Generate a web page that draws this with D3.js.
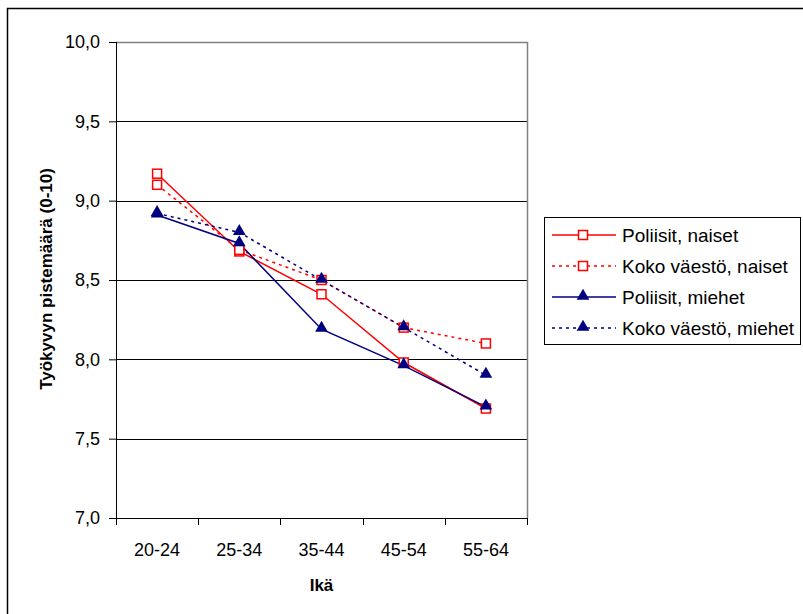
<!DOCTYPE html>
<html>
<head>
<meta charset="utf-8">
<script src="https://cdn.jsdelivr.net/npm/d3@7/dist/d3.min.js"></script>
<style>
  body { margin: 0; background: #fff; }
  svg text { font-family: "Liberation Sans", Arial, sans-serif; fill: #000; }
</style>
</head>
<body>
<svg id="chart" width="803" height="614"></svg>
<script>
// age groups on the x axis
var ages = ['20-24', '25-34', '35-44', '45-54', '55-64'];
var yTicks = [7.0, 7.5, 8.0, 8.5, 9.0, 9.5, 10.0];

// values
var poliisitNaiset = [9.17, 8.68, 8.41, 7.98, 7.69];
var kokoNaiset = [9.10, 8.69, 8.50, 8.20, 8.10];
var poliisitMiehet = [8.91, 8.73, 8.19, 7.96, 7.70];
var kokoMiehet = [8.92, 8.80, 8.50, 8.20, 7.90];

var seriesNames = ['Poliisit, naiset', 'Koko väestö, naiset', 'Poliisit, miehet', 'Koko väestö, miehet'];

var series = [
  { name: seriesNames[0], values: poliisitNaiset, color: '#ff0000', dash: null, marker: 'square' },
  { name: seriesNames[1], values: kokoNaiset, color: '#ff0000', dash: '3,4', marker: 'square' },
  { name: seriesNames[2], values: poliisitMiehet, color: '#000080', dash: null, marker: 'triangle' },
  { name: seriesNames[3], values: kokoMiehet, color: '#000080', dash: '3,4', marker: 'triangle' }
];

var svg = d3.select('#chart');

// outer chart frame
svg.append('rect')
  .attr('x', 7.5).attr('y', 8.5)
  .attr('width', 820).attr('height', 640)
  .attr('fill', 'none').attr('stroke', '#000').attr('stroke-width', 1.5);

var margin = { top: 42, left: 116 },
  width = 411,
  height = 476;

var g = svg.append('g').attr('transform', 'translate(' + margin.left + ',' + margin.top + ')');

var x = d3.scaleBand().domain(ages).range([0, width]);
var y = d3.scaleLinear().domain([7, 10]).range([height, 0]);

// gridlines
g.selectAll('.grid')
  .data(yTicks.filter(function(d) { return d > 7 && d < 10; }))
  .enter().append('line')
  .attr('x1', 0).attr('x2', width)
  .attr('y1', function(d) { return Math.round(y(d)) + 0.5; })
  .attr('y2', function(d) { return Math.round(y(d)) + 0.5; })
  .attr('stroke', '#000').attr('stroke-width', 1);

// plot area border (top and right)
g.append('path')
  .attr('d', 'M0,0.5H' + (width + 0.5) + 'V' + height)
  .attr('fill', 'none').attr('stroke', '#808080').attr('stroke-width', 1.5);

// y axis
var yAxis = g.append('g')
  .call(d3.axisLeft(y).tickValues(yTicks).tickSize(7).tickPadding(9)
    .tickFormat(function(d) { return d3.format('.1f')(d).replace('.', ','); }));
yAxis.select('.domain').attr('stroke', '#000').attr('d', 'M0.5,0V' + height);
yAxis.selectAll('text').style('font-size', '18px');

// x axis
var xAxis = g.append('g')
  .attr('transform', 'translate(0,' + height + ')')
  .call(d3.axisBottom(x).tickSize(0).tickPadding(25));
xAxis.select('.domain').attr('d', 'M0,0.5H' + width);
xAxis.selectAll('text').style('font-size', '18px');
xAxis.selectAll('.xtick')
  .data(d3.range(ages.length + 1))
  .enter().append('line')
  .attr('x1', function(i) { return Math.round(i * x.step()) + 0.5; })
  .attr('x2', function(i) { return Math.round(i * x.step()) + 0.5; })
  .attr('y1', 0).attr('y2', 7)
  .attr('stroke', '#000');

// axis titles
svg.append('text')
  .attr('x', margin.left + width / 2).attr('y', 591)
  .attr('text-anchor', 'middle')
  .style('font-size', '17px').style('font-weight', 'bold')
  .text('Ikä');

svg.append('text')
  .attr('transform', 'translate(52,' + (margin.top + height / 2 - 1) + ') rotate(-90)')
  .attr('text-anchor', 'middle')
  .style('font-size', '17px').style('font-weight', 'bold')
  .text('Työkyvyn pistemäärä (0-10)');

var line = d3.line()
  .x(function(d, i) { return x(ages[i]) + x.bandwidth() / 2; })
  .y(function(d) { return y(d); });

var triangle = d3.symbol().type(d3.symbolTriangle).size(70);

function drawMarker(sel, s) {
  if (s.marker === 'square') {
    sel.append('rect')
      .attr('x', -4.5).attr('y', -4.5).attr('width', 9).attr('height', 9)
      .attr('fill', '#fff').attr('stroke', s.color).attr('stroke-width', 1.5);
  } else {
    sel.append('path').attr('d', triangle).attr('transform', 'translate(0,-1)')
      .attr('fill', s.color);
  }
}

series.forEach(function(s) {
  g.append('path')
    .datum(s.values)
    .attr('fill', 'none')
    .attr('stroke', s.color)
    .attr('stroke-width', 1.5)
    .attr('stroke-dasharray', s.dash)
    .attr('d', line);
});

series.forEach(function(s) {
  g.selectAll(null)
    .data(s.values)
    .enter().append('g')
    .attr('transform', function(d, i) {
      return 'translate(' + (x(ages[i]) + x.bandwidth() / 2) + ',' + y(d) + ')';
    })
    .each(function() { drawMarker(d3.select(this), s); });
});

// legend
var legend = svg.append('g');
legend.append('rect')
  .attr('x', 544.5).attr('y', 217.5).attr('width', 256).attr('height', 127)
  .attr('fill', '#fff').attr('stroke', '#000').attr('stroke-width', 1);

series.forEach(function(s, i) {
  var ly = 235 + i * 31;
  var item = legend.append('g').attr('transform', 'translate(0,' + ly + ')');
  item.append('line')
    .attr('x1', 552).attr('x2', 616)
    .attr('stroke', s.color).attr('stroke-width', 1.5)
    .attr('stroke-dasharray', s.dash);
  drawMarker(item.append('g').attr('transform', 'translate(583,0)'), s);
  item.append('text')
    .attr('x', 622).attr('dy', '0.35em')
    .style('font-size', '19px')
    .text(s.name);
});
</script>
</body>
</html>
